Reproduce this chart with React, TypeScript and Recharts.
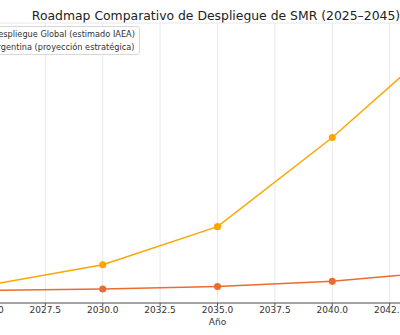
import { LineChart, Line, XAxis, YAxis, CartesianGrid } from 'recharts';

const years = [2025, 2030, 2035, 2040, 2045];
const globalSmr = [4, 20, 50, 120, 200];
const argentinaSmr = [0, 1, 3, 7, 15];
const xTicks = [2025, 2027.5, 2030, 2032.5, 2035, 2037.5, 2040, 2042.5, 2045];
const yTicks = [0, 25, 50, 75, 100, 125, 150, 175, 200];

const GLOBAL_COLOR = '#FFA500';
const ARG_COLOR = '#EE6A2E';
const FONT = '"DejaVu Sans", sans-serif';

const series = [
  { key: 'global', name: 'Despliegue Global (estimado IAEA)', color: GLOBAL_COLOR },
  { key: 'argentina', name: 'Argentina (proyección estratégica)', color: ARG_COLOR },
];

const data = years.map((year, i) => ({
  year,
  global: globalSmr[i],
  argentina: argentinaSmr[i],
}));

function LegendBox() {
  return (
    <div
      style={{
        position: 'absolute',
        top: 26,
        left: -39,
        background: 'rgba(255,255,255,0.85)',
        border: '1px solid #d8d8d8',
        borderRadius: 3,
        padding: '1px 4px',
        fontFamily: FONT,
        fontSize: 8.2,
        color: '#333',
        lineHeight: '12.5px',
      }}
    >
      {series.map((s) => (
        <div key={s.key} style={{ display: 'flex', alignItems: 'center' }}>
          <svg width={20} height={8} style={{ marginRight: 6 }}>
            <line x1={0} y1={4} x2={20} y2={4} stroke={s.color} strokeWidth={1.5} />
            <circle cx={10} cy={4} r={2.5} fill={s.color} />
          </svg>
          <span>{s.name}</span>
        </div>
      ))}
    </div>
  );
}

export default function App() {
  return (
    <div
      style={{
        position: 'fixed',
        top: 0,
        left: 0,
        width: 400,
        height: 335,
        overflow: 'hidden',
        background: '#fff',
      }}
    >
      <div
        style={{
          position: 'absolute',
          top: 15,
          left: 0,
          width: 432,
          textAlign: 'center',
          fontFamily: FONT,
          fontSize: 12.4,
          color: '#222',
          whiteSpace: 'nowrap',
          transform: 'translateY(-50%)',
        }}
      >
        Roadmap Comparativo de Despliegue de SMR (2025–2045)
      </div>
      <div style={{ position: 'absolute', top: 0, left: -60 }}>
        <LineChart
          width={560}
          height={335}
          data={data}
          margin={{ top: 23, right: 30, left: 25, bottom: 0 }}
        >
          <CartesianGrid stroke="#e8e8e8" strokeWidth={1} />
          <XAxis
            dataKey="year"
            type="number"
            domain={[2024, 2046]}
            ticks={xTicks}
            tickFormatter={(v: number) => v.toFixed(1)}
            height={32}
            stroke="#555"
            tickSize={3}
            tickMargin={1}
            tick={{ fontFamily: FONT, fontSize: 9, fill: '#333' }}
            label={{ value: 'Año', position: 'insideBottom', offset: 10, fontFamily: FONT, fontSize: 9, fill: '#333' }}
          />
          <YAxis
            type="number"
            domain={[-10, 210]}
            ticks={yTicks}
            width={0}
            tick={false}
            axisLine={false}
            tickLine={false}
          />
          {series.map((s) => (
            <Line
              key={s.key}
              dataKey={s.key}
              name={s.name}
              stroke={s.color}
              strokeWidth={1.5}
              dot={{ r: 2.8, fill: s.color, stroke: s.color }}
              isAnimationActive={false}
            />
          ))}
        </LineChart>
      </div>
      <LegendBox />
    </div>
  );
}
